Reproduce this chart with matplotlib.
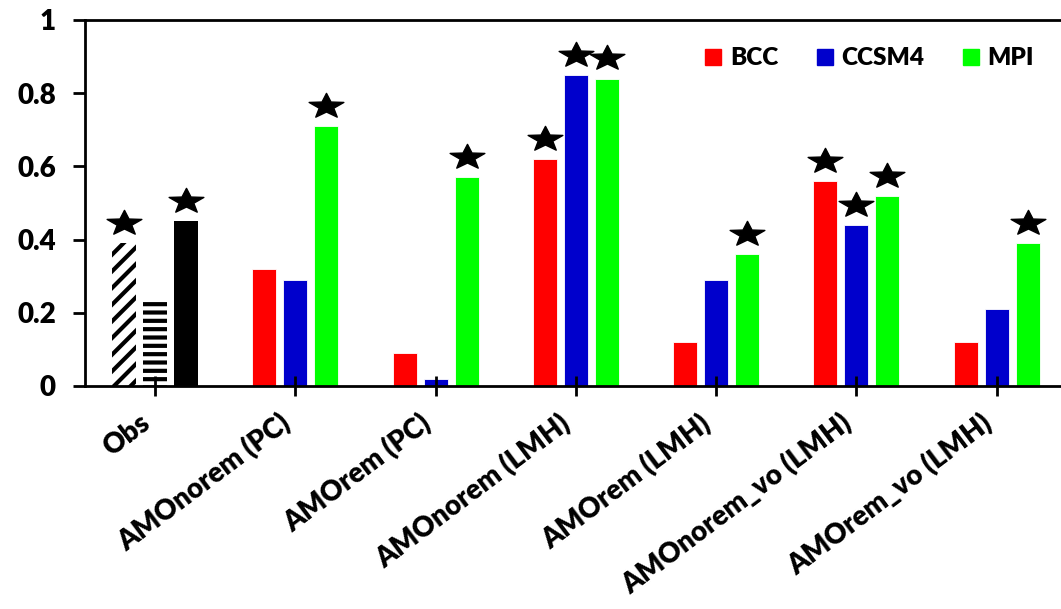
import matplotlib
matplotlib.use("Agg")
import matplotlib.pyplot as plt
import numpy as np
from matplotlib.path import Path
from matplotlib.lines import Line2D

plt.rcParams['font.family'] = ['Lato', 'DejaVu Sans']
plt.rcParams['font.weight'] = 'heavy'
plt.rcParams['hatch.linewidth'] = 3.0

categories = ['Obs', 'AMOnorem (PC)', 'AMOrem (PC)', 'AMOnorem (LMH)',
              'AMOrem (LMH)', 'AMOnorem_vo (LMH)', 'AMOrem_vo (LMH)']
models = ['BCC', 'CCSM4', 'MPI']
colors = ['#ff0000', '#0000cc', '#00ff00']

# observations (three bars in the first group)
obs_values = [0.39, 0.23, 0.45]
obs_sig = [True, False, True]

# model results for the other six groups
bcc = [0.32, 0.09, 0.62, 0.12, 0.56, 0.12]
ccsm4 = [0.29, 0.02, 0.85, 0.29, 0.44, 0.21]
mpi = [0.71, 0.57, 0.84, 0.36, 0.52, 0.39]
bcc_sig = [False, False, True, False, True, False]
ccsm4_sig = [False, False, True, False, True, False]
mpi_sig = [True, True, True, True, True, True]

star_offset = 0.055
width = 0.171
step = 0.221

# flattened star marker
star = Path.unit_regular_star(5, 0.42)
verts = star.vertices.copy()
verts[:, 1] *= 0.72
star_marker = Path(verts, star.codes)

fig = plt.figure(figsize=(10.61, 6.09), dpi=100)
ax = fig.add_axes([0.0801, 0.3662, 0.9199, 0.601])

x = np.arange(len(categories))
offs = [-step, 0, step]

# obs bars
ax.bar(x[0] - step, obs_values[0], width, color='white', edgecolor='black',
       linewidth=0, hatch='//')
ax.bar(x[0], obs_values[1], width, color='white', edgecolor='black',
       linewidth=0, hatch='--')
ax.bar(x[0] + step, obs_values[2], width, color='black')
for o, v, s in zip(offs, obs_values, obs_sig):
    if s:
        ax.plot(x[0] + o, v + star_offset, marker=star_marker, ms=25,
                color='black', ls='none')

xm = x[1:]
for o, vals, sig, c, name in zip(offs, [bcc, ccsm4, mpi],
                                 [bcc_sig, ccsm4_sig, mpi_sig], colors, models):
    ax.bar(xm + o, vals, width, color=c, edgecolor='white', linewidth=0.6,
           label=name)
    for xi, v, s in zip(xm, vals, sig):
        if s:
            ax.plot(xi + o, v + star_offset, marker=star_marker, ms=25,
                    color='black', ls='none')

ax.set_xlim(-0.499, 6.458)
ax.set_ylim(0, 1)
ax.set_yticks([0, 0.2, 0.4, 0.6, 0.8, 1])
ax.set_yticklabels(['0', '0.2', '0.4', '0.6', '0.8', '1'])
ax.set_xticks(x)
ax.set_xticklabels(categories, rotation=37, ha='right')

ax.spines['right'].set_visible(False)
for sp in ['left', 'bottom', 'top']:
    ax.spines[sp].set_linewidth(2)
ax.tick_params(axis='y', direction='out', length=9, width=2, labelsize=20, pad=12)
ax.tick_params(axis='x', direction='inout', length=14, width=2, labelsize=20, pad=10)

handles = [Line2D([], [], marker='s', ls='none', color=c, ms=12) for c in colors]
ax.legend(handles, models, loc='upper right', bbox_to_anchor=(0.995, 0.985),
          ncol=3, frameon=False, fontsize=17.5, handlelength=0.8,
          handletextpad=0.3, columnspacing=1.5)

fig.savefig('out.png', dpi=100)
